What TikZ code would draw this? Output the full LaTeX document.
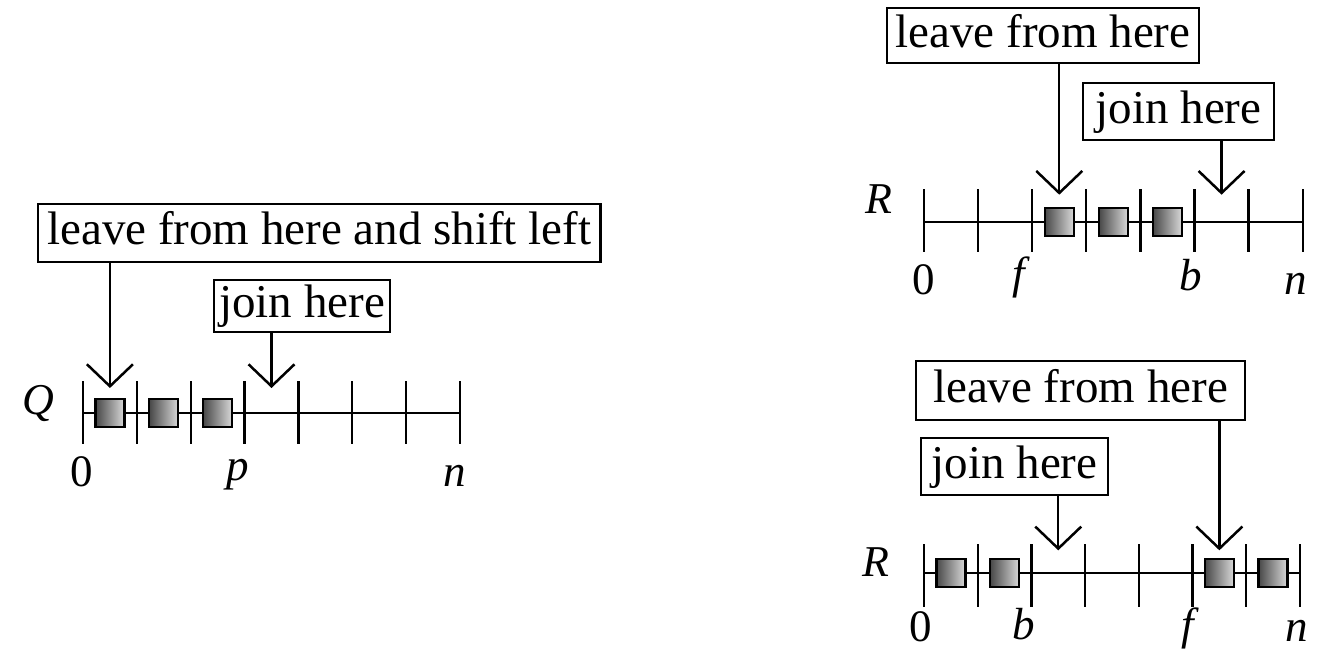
\documentclass[tikz,border=0pt]{standalone}
\usepackage{fontspec}
\setmainfont{Liberation Serif}
\usetikzlibrary{arrows.meta,calc}
\begin{document}
\begin{tikzpicture}[x=1pt,y=-1pt,
  lw/.style={line width=2.3pt},
  axisline/.style={lw},
  labelbox/.style={draw, line width=2.4pt, fill=white, inner ysep=3pt, inner xsep=0pt,
     font=\fontsize{47}{56}\selectfont, text height=33pt, text depth=10pt},
  arr/.style={lw, -{Straight Barb[length=22pt,width=46pt,line width=2.5pt]}},
  sq/.style={draw, line width=2.3pt, minimum width=29pt, minimum height=28pt, inner sep=0pt,
     left color=black!72, right color=black!15},
  numlbl/.style={anchor=base, inner sep=0pt, font=\fontsize{45}{54}\selectfont},
  letlbl/.style={numlbl, font=\fontsize{45}{54}\selectfont\itshape},
  axlbl/.style={anchor=base, inner sep=0pt, font=\fontsize{44}{52}\selectfont\itshape}
]
\useasboundingbox (0,0) rectangle (1319,649);

% ---------------- Left: Q ----------------
\foreach \i in {0,...,7} \coordinate (q\i) at ({83+53.86*\i},413);
\draw[axisline] (q0) -- (q7);
\foreach \i in {0,...,7} \draw[axisline] ([yshift=32pt]q\i) -- ([yshift=-31pt]q\i);
\foreach \i in {0,1,2} \node[sq] (qs\i) at ($(q\i)!0.5!(q\the\numexpr\i+1\relax)$) {};
\node[labelbox, anchor=west, minimum height=58pt, inner xsep=9pt] (L1) at (37,233) {leave from here and shift left};
\node[labelbox, minimum width=176pt, minimum height=52pt] (J1) at (302,306) {join here};
\coordinate (qt1) at ($($(q0)!0.5!(q1)$)+(0,-25)$);
\coordinate (qt2) at ($($(q3)!0.5!(q4)$)+(0,-25)$);
\draw[arr] (L1.south -| qt1) -- (qt1);
\draw[arr] (J1.south -| qt2) -- (qt2);
\node[axlbl] (Q) at (38,414) {Q};
\node[numlbl] (q0l) at (82,486) {0};
\node[letlbl] (qpl) at (238,480) {p};
\node[letlbl] (qnl) at (455,486) {n};

% ---------------- Right top: R ----------------
\foreach \i in {0,...,7} \coordinate (r\i) at ({924+54.1*\i},221.7);
\draw[axisline] (r0) -- (r7);
\foreach \i in {0,...,7} \draw[axisline] ([yshift=32.7pt]r\i) -- ([yshift=-30.3pt]r\i);
\foreach \i in {2,3,4} \node[sq] (rs\i) at ($(r\i)!0.5!(r\the\numexpr\i+1\relax)$) {};
\node[labelbox, minimum width=312pt, minimum height=55pt] (L2) at (1043,35.5) {leave from here};
\node[labelbox, minimum width=191pt, minimum height=57pt] (J2) at (1178.5,111.5) {join here};
\coordinate (rt1) at ($($(r2)!0.5!(r3)$)+(0,-27)$);
\coordinate (rt2) at ($($(r5)!0.5!(r6)$)+(0,-27)$);
\draw[arr] (L2.south -| rt1) -- (rt1);
\draw[arr] (J2.south -| rt2) -- (rt2);
\node[axlbl] (R1) at (879,213) {R};
\node[numlbl] (r0l) at (924,294) {0};
\node[letlbl] (rfl) at (1019,288) {f};
\node[letlbl] (rbl) at (1191,290) {b};
\node[letlbl] (rnl) at (1296,294) {n};

% ---------------- Right bottom: R ----------------
\foreach \i in {0,...,7} \coordinate (s\i) at ({924+53.7*\i},573.3);
\draw[axisline] (s0) -- (s7);
\foreach \i in {0,...,7} \draw[axisline] ([yshift=29.3pt]s\i) -- ([yshift=-33.4pt]s\i);
\foreach \i in {0,1,5,6} \node[sq] (ss\i) at ($(s\i)!0.5!(s\the\numexpr\i+1\relax)$) {};
\node[labelbox, minimum width=329pt, minimum height=59pt] (L3) at (1080.5,390.5) {leave from here};
\node[labelbox, minimum width=187pt, minimum height=57pt] (J3) at (1014.5,466.5) {join here};
\coordinate (st1) at ($($(s5)!0.5!(s6)$)+(0,-23)$);
\coordinate (st2) at ($($(s2)!0.5!(s3)$)+(0,-23)$);
\draw[arr] (L3.south -| st1) -- (st1);
\draw[arr] (J3.south -| st2) -- (st2);
\node[axlbl] (R2) at (876,576) {R};
\node[numlbl] (s0l) at (921,641) {0};
\node[letlbl] (sbl) at (1024,639) {b};
\node[letlbl] (sfl) at (1188,639) {f};
\node[letlbl] (snl) at (1297,641) {n};
\end{tikzpicture}
\end{document}
